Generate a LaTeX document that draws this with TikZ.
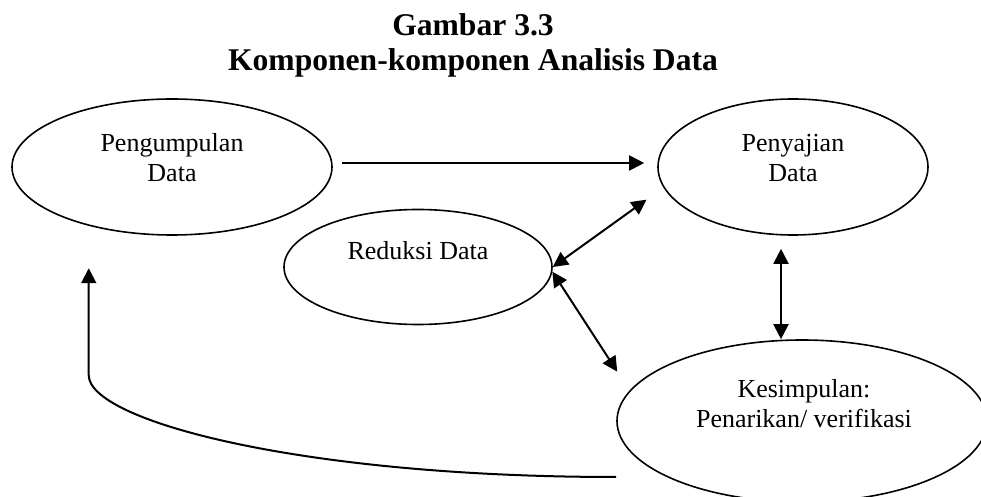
\documentclass[tikz,border=0pt]{standalone}
\usepackage{fontspec}
\setmainfont{Liberation Serif}
\usepackage{tikz}
\usetikzlibrary{arrows.meta,calc,shapes,positioning}
\tikzset{
    elips/.style = {draw, ellipse, line width=0.8pt, inner sep=0pt},
    teks/.style = {align=center, font=\fontsize{13}{15}\selectfont},
    judul/.style = {font=\fontsize{15.8}{18}\selectfont\bfseries},
    arrow/.style = {draw, line width=1pt, ->},
    dblarrow/.style = {draw, line width=1pt, <->}
}

\begin{document}
\begin{tikzpicture}[x=0.5pt, y=-0.5pt, >={Triangle[length=7.5pt,width=7.5pt]}]
        \useasboundingbox (0,0) rectangle (981,497);
        \node [judul, anchor=base] (judul1) at (473,36) {Gambar 3.3};
        \node [judul, anchor=base] (judul2) at (473,71) {Komponen-komponen Analisis Data};
        % lingkaran komponen
        \node [elips, minimum width=160pt, minimum height=68pt] (kumpul) at (172,167) {};
        \node [elips, minimum width=135pt, minimum height=68pt] (sajian) at (793,167) {};
        \node [elips, minimum width=134pt, minimum height=57.5pt] (reduksi) at (418,267) {};
        \node [elips, minimum width=185pt, minimum height=81pt] (simpulan) at (802,421) {};
        \node [teks] (kumpulteks) at ([yshift=4.5pt]kumpul.center) {Pengumpulan\\Data};
        \node [teks] (sajianteks) at ([yshift=4.5pt]sajian.center) {Penyajian\\Data};
        \node [teks] (reduksiteks) at ([yshift=8pt]reduksi.center) {Reduksi Data};
        \node [teks] (simpulanteks) at ([xshift=1pt, yshift=8.5pt]simpulan.center) {Kesimpulan:\\Penarikan/ verifikasi};
        % panah
        \draw [arrow, shorten <=4.5pt, shorten >=6.5pt] ([yshift=2pt]kumpul.east) -- ([yshift=2pt]sajian.west);
        \draw [dblarrow, shorten >=10.4pt] (reduksi.east) -- (sajian.189);
        \draw [dblarrow, shorten >=11.3pt] (reduksi.-2) -- (simpulan.170);
        \draw [dblarrow, shorten <=6.5pt] ([xshift=-6pt]sajian.south) -- ([xshift=-10.5pt]simpulan.north);
        \coordinate (balik) at ([yshift=-28pt]simpulan.west);
        \coordinate (sudut) at ([xshift=-10pt, yshift=-72.5pt]kumpul.225);
        \draw [arrow, shorten >=19pt] (balik) .. controls +(-318,0) and +(0,45) .. (sudut) -- (sudut |- kumpul.225);
\end{tikzpicture}
\end{document}
